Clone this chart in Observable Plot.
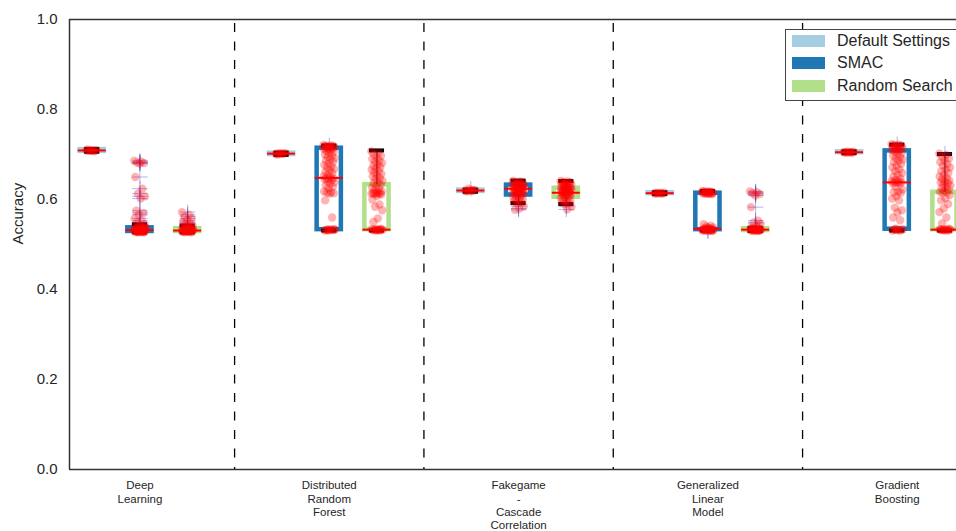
<!DOCTYPE html>
<html>
<head>
<meta charset="utf-8">
<script src="https://cdn.jsdelivr.net/npm/d3@7"></script>
<script src="https://cdn.jsdelivr.net/npm/@observablehq/plot@0.6"></script>
<style>
  html, body { margin: 0; padding: 0; background: #fff; overflow: hidden; }
  #wrap { position: relative; width: 956px; height: 531px; font-family: "Liberation Sans", Arial, sans-serif; }
  #legend {
    position: absolute; left: 785px; top: 29px; width: 190px; height: 72px;
    border: 1px solid #444; background: #fff; box-sizing: border-box;
  }
  #legend .row { position: absolute; left: 6px; height: 14px; display: flex; align-items: center; }
  #legend .sw { width: 33px; height: 12px; margin-right: 12px; }
  #legend .lab { font-size: 16px; color: #262626; white-space: nowrap; }
</style>
</head>
<body>
<div id="wrap"><div id="chart"></div><div id="legend"></div></div>
<script>
// Model families on the x axis (multi-line labels)
const groups = [
  "Deep\nLearning",
  "Distributed\nRandom\nForest",
  "Fakegame\n-\nCascade\nCorrelation",
  "Generalized\nLinear\nModel",
  "Gradient\nBoosting"
];
const methods = ["Default Settings", "SMAC", "Random Search"];
const methodColors = ["#a6cee3", "#1f78b4", "#b2df8a"];
const yTicks = [0.0, 0.2, 0.4, 0.6, 0.8, 1.0];

// Box statistics per group: [lower whisker, q1, median, q3, upper whisker]
const defaultStats = [
  [0.706, 0.707, 0.709, 0.711, 0.712],
  [0.699, 0.700, 0.702, 0.703, 0.704],
  [0.617, 0.618, 0.620, 0.621, 0.622],
  [0.612, 0.613, 0.614, 0.615, 0.616],
  [0.703, 0.704, 0.705, 0.706, 0.707]
];
const smacStats = [
  [0.527, 0.529, 0.532, 0.537, 0.545],
  [0.531, 0.533, 0.648, 0.714, 0.720],
  [0.592, 0.610, 0.624, 0.632, 0.642],
  [0.531, 0.533, 0.535, 0.614, 0.619],
  [0.531, 0.534, 0.638, 0.708, 0.722]
];
const randomStats = [
  [0.527, 0.529, 0.531, 0.535, 0.542],
  [0.531, 0.533, 0.533, 0.633, 0.709],
  [0.590, 0.605, 0.615, 0.625, 0.641],
  [0.530, 0.531, 0.533, 0.535, 0.537],
  [0.531, 0.533, 0.533, 0.616, 0.701]
];

// Individual run accuracies per group
const defaultRuns = [
  [0.709, 0.709, 0.708, 0.710, 0.709, 0.711, 0.707, 0.709],
  [0.702, 0.702, 0.701, 0.703, 0.702, 0.700, 0.702, 0.703],
  [0.620, 0.620, 0.619, 0.621, 0.620, 0.618, 0.620, 0.624],
  [0.614, 0.614, 0.613, 0.615, 0.614, 0.614, 0.613, 0.615],
  [0.705, 0.705, 0.704, 0.706, 0.705, 0.705, 0.704, 0.706]
];
const smacRuns = [
  [0.686, 0.684, 0.682, 0.681, 0.680, 0.650, 0.624, 0.613, 0.607, 0.602, 0.575, 0.570,
   0.566, 0.558, 0.553, 0.549, 0.545, 0.543, 0.541, 0.540, 0.539, 0.538, 0.537, 0.536,
   0.535, 0.535, 0.534, 0.534, 0.533, 0.533, 0.532, 0.532, 0.532, 0.531, 0.531, 0.531,
   0.530, 0.530, 0.530, 0.529, 0.529, 0.528, 0.528, 0.528, 0.527, 0.527, 0.527, 0.533,
   0.531, 0.529, 0.536, 0.534, 0.530, 0.528, 0.532, 0.538],
  [0.721, 0.720, 0.719, 0.719, 0.718, 0.718, 0.717, 0.717, 0.716, 0.716, 0.715, 0.714,
   0.713, 0.712, 0.710, 0.708, 0.706, 0.703, 0.700, 0.698, 0.695, 0.692, 0.690, 0.687,
   0.684, 0.680, 0.677, 0.674, 0.671, 0.668, 0.665, 0.662, 0.659, 0.655, 0.652, 0.650,
   0.648, 0.647, 0.646, 0.645, 0.643, 0.641, 0.638, 0.635, 0.631, 0.628, 0.625, 0.618,
   0.616, 0.615, 0.614, 0.613, 0.598, 0.560, 0.534, 0.533, 0.533, 0.532, 0.532, 0.531,
   0.531, 0.533, 0.532, 0.534],
  [0.641, 0.640, 0.639, 0.638, 0.637, 0.636, 0.635, 0.634, 0.633, 0.632, 0.631, 0.630,
   0.629, 0.628, 0.627, 0.626, 0.625, 0.624, 0.624, 0.623, 0.622, 0.621, 0.620, 0.619,
   0.618, 0.617, 0.616, 0.615, 0.614, 0.613, 0.612, 0.611, 0.610, 0.608, 0.606, 0.604,
   0.602, 0.600, 0.598, 0.596, 0.594, 0.592, 0.585, 0.580, 0.577, 0.624, 0.626, 0.622,
   0.628, 0.620, 0.630, 0.618],
  [0.619, 0.618, 0.618, 0.617, 0.617, 0.616, 0.616, 0.616, 0.615, 0.615, 0.615, 0.614,
   0.614, 0.614, 0.613, 0.613, 0.612, 0.612, 0.545, 0.542, 0.540, 0.538, 0.537, 0.536,
   0.535, 0.535, 0.534, 0.534, 0.533, 0.533, 0.533, 0.532, 0.532, 0.532, 0.531, 0.531,
   0.531, 0.530, 0.530, 0.533, 0.532, 0.534, 0.531],
  [0.723, 0.722, 0.721, 0.720, 0.719, 0.718, 0.717, 0.716, 0.715, 0.714, 0.713, 0.712,
   0.711, 0.710, 0.709, 0.707, 0.704, 0.701, 0.698, 0.695, 0.692, 0.689, 0.686, 0.683,
   0.679, 0.675, 0.671, 0.667, 0.663, 0.659, 0.655, 0.651, 0.647, 0.644, 0.641, 0.640,
   0.639, 0.638, 0.637, 0.636, 0.635, 0.628, 0.622, 0.617, 0.616, 0.615, 0.607, 0.602,
   0.598, 0.582, 0.576, 0.571, 0.560, 0.554, 0.535, 0.534, 0.533, 0.533, 0.532, 0.532,
   0.531, 0.531, 0.533]
];
const randomRuns = [
  [0.572, 0.566, 0.562, 0.558, 0.554, 0.550, 0.547, 0.545, 0.542, 0.540, 0.539, 0.538,
   0.537, 0.536, 0.535, 0.535, 0.534, 0.534, 0.533, 0.533, 0.533, 0.532, 0.532, 0.532,
   0.531, 0.531, 0.531, 0.531, 0.530, 0.530, 0.530, 0.529, 0.529, 0.529, 0.528, 0.528,
   0.527, 0.527, 0.532, 0.531, 0.533, 0.530, 0.534, 0.529],
  [0.707, 0.704, 0.700, 0.697, 0.694, 0.690, 0.687, 0.684, 0.681, 0.678, 0.675, 0.672,
   0.669, 0.666, 0.663, 0.660, 0.657, 0.654, 0.651, 0.648, 0.645, 0.642, 0.639, 0.636,
   0.633, 0.630, 0.627, 0.624, 0.621, 0.618, 0.616, 0.615, 0.614, 0.614, 0.613, 0.613,
   0.612, 0.611, 0.608, 0.600, 0.589, 0.584, 0.576, 0.558, 0.550, 0.535, 0.534, 0.534,
   0.533, 0.533, 0.533, 0.532, 0.532, 0.531, 0.531, 0.533, 0.532],
  [0.641, 0.640, 0.639, 0.638, 0.637, 0.636, 0.635, 0.634, 0.633, 0.632, 0.631, 0.630,
   0.629, 0.628, 0.627, 0.626, 0.625, 0.624, 0.623, 0.622, 0.621, 0.620, 0.619, 0.618,
   0.617, 0.616, 0.615, 0.614, 0.613, 0.612, 0.611, 0.610, 0.608, 0.606, 0.604, 0.602,
   0.600, 0.598, 0.596, 0.594, 0.592, 0.590, 0.584, 0.578, 0.615, 0.617, 0.613, 0.619],
  [0.618, 0.616, 0.614, 0.612, 0.609, 0.583, 0.553, 0.549, 0.546, 0.540, 0.537, 0.536,
   0.535, 0.535, 0.534, 0.534, 0.534, 0.533, 0.533, 0.533, 0.533, 0.532, 0.532, 0.532,
   0.531, 0.531, 0.531, 0.530, 0.530, 0.533, 0.532, 0.534, 0.531],
  [0.702, 0.699, 0.695, 0.691, 0.687, 0.683, 0.679, 0.675, 0.671, 0.667, 0.663, 0.659,
   0.655, 0.651, 0.648, 0.645, 0.642, 0.640, 0.638, 0.636, 0.634, 0.631, 0.628, 0.625,
   0.622, 0.619, 0.617, 0.616, 0.615, 0.610, 0.603, 0.598, 0.590, 0.580, 0.572, 0.560,
   0.547, 0.535, 0.534, 0.534, 0.533, 0.533, 0.533, 0.532, 0.532, 0.531, 0.531, 0.533]
];

// ---- build tables ----
const statsByMethod = [defaultStats, smacStats, randomStats];
const runsByMethod = [defaultRuns, smacRuns, randomRuns];
const hueOffset = [-0.252, 0, 0.252];
const halfBox = 0.064;
const halfCap = 0.04;

const boxes = [];
statsByMethod.forEach((stats, m) => stats.forEach(([lo, q1, med, q3, hi], g) => {
  boxes.push({g, m, x: g + hueOffset[m], lo, q1, med, q3, hi});
}));

const points = [];
const fliers = [];
runsByMethod.forEach((runs, m) => runs.forEach((vals, g) => {
  const b = boxes.find(d => d.g === g && d.m === m);
  vals.forEach((v, i) => {
    // deterministic strip jitter from the run index
    const jit = (((i * 0.6180339887) % 1) - 0.5) * 0.06;
    points.push({x: b.x + jit, y: v});
    if (v > b.hi || v < b.lo) fliers.push({x: b.x, y: v});
  });
}));

const chart = Plot.plot({
  width: 956,
  height: 531,
  marginLeft: 69,
  marginRight: 0,
  marginTop: 19,
  marginBottom: 62,
  style: {fontFamily: "Liberation Sans, Arial, sans-serif", color: "#262626", background: "#fff"},
  x: {type: "linear", domain: [-0.372, 4.313]},
  y: {domain: [0, 1]},
  marks: [
    // group separators
    Plot.ruleX([0.5, 1.5, 2.5, 3.5], {stroke: "#000", strokeWidth: 1.3, strokeDasharray: "9,9.5", strokeDashoffset: -4}),
    // boxes
    Plot.rect(boxes, {x1: d => d.x - halfBox, x2: d => d.x + halfBox, y1: "q1", y2: "q3",
      fill: "none", stroke: d => methodColors[d.m], strokeWidth: 4.5}),
    // whiskers
    Plot.ruleX(boxes, {x: "x", y1: "q3", y2: "hi", stroke: "#000", strokeWidth: 1}),
    Plot.ruleX(boxes, {x: "x", y1: "lo", y2: "q1", stroke: "#000", strokeWidth: 1}),
    // whisker caps
    Plot.ruleY(boxes, {y: "hi", x1: d => d.x - halfCap, x2: d => d.x + halfCap, stroke: "#000", strokeWidth: 4}),
    Plot.ruleY(boxes, {y: "lo", x1: d => d.x - halfCap, x2: d => d.x + halfCap, stroke: "#000", strokeWidth: 4}),
    // outliers
    Plot.dot(fliers, {x: "x", y: "y", symbol: "plus", r: 5, stroke: "#3b3bd6", strokeOpacity: 0.4, strokeWidth: 1}),
    // individual runs
    Plot.dot(points, {x: "x", y: "y", r: 4.2, fill: "red", fillOpacity: 0.3, stroke: "none"}),
    // medians
    Plot.ruleY(boxes, {y: "med", x1: d => d.x - halfBox - 0.01, x2: d => d.x + halfBox + 0.01, stroke: "red", strokeWidth: 2}),
    // axes
    Plot.axisY({ticks: yTicks, tickFormat: d3.format(".1f"), tickSize: 0, tickPadding: 12, fontSize: 15, label: null}),
    Plot.text(["Accuracy"], {frameAnchor: "left", text: d => d, rotate: -90, dx: -51, fontSize: 15, fill: "#262626"}),
    Plot.axisX({ticks: [0, 1, 2, 3, 4], tickFormat: i => groups[i], tickSize: 0, tickPadding: 10.5,
      fontSize: 11.5, lineHeight: 1.16, label: null}),
    // spines
    Plot.ruleY([0], {stroke: "#333", strokeWidth: 1.5}),
    Plot.ruleY([1], {stroke: "#333", strokeWidth: 1.5}),
    Plot.ruleX([-0.372], {stroke: "#333", strokeWidth: 1.5})
  ]
});
document.getElementById("chart").appendChild(chart);

// legend
const legend = document.getElementById("legend");
methods.forEach((name, i) => {
  const row = document.createElement("div");
  row.className = "row";
  row.style.top = (3.5 + i * 22.5) + "px";
  row.innerHTML = `<div class="sw" style="background:${methodColors[i]}"></div><span class="lab">${name}</span>`;
  legend.appendChild(row);
});
</script>
</body>
</html>
